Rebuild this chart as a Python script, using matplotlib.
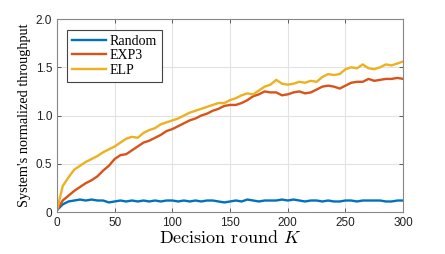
import numpy as np
import matplotlib
matplotlib.use("Agg")
import matplotlib.pyplot as plt

# decision rounds (every 5 rounds)
rounds = np.arange(0, 301, 5)

random_tp = [0.02, 0.08, 0.11, 0.12, 0.13, 0.12, 0.13, 0.12, 0.12, 0.10, 0.11,
             0.12, 0.11, 0.12, 0.11, 0.12, 0.11, 0.12, 0.11, 0.12, 0.12,
             0.11, 0.12, 0.11, 0.12, 0.11, 0.12, 0.12, 0.11, 0.10, 0.11,
             0.12, 0.11, 0.13, 0.12, 0.11, 0.12, 0.12, 0.12, 0.13, 0.12,
             0.13, 0.12, 0.11, 0.12, 0.12, 0.11, 0.12, 0.11, 0.11, 0.12,
             0.12, 0.11, 0.12, 0.12, 0.12, 0.12, 0.11, 0.11, 0.12, 0.12]

exp3_tp = [0.02, 0.12, 0.17, 0.22, 0.26, 0.30, 0.33, 0.37, 0.43, 0.48, 0.55,
           0.59, 0.60, 0.64, 0.68, 0.72, 0.74, 0.77, 0.80, 0.84, 0.86,
           0.89, 0.92, 0.95, 0.97, 1.00, 1.02, 1.05, 1.07, 1.10, 1.11,
           1.11, 1.13, 1.16, 1.20, 1.22, 1.25, 1.24, 1.24, 1.21, 1.22,
           1.24, 1.25, 1.23, 1.24, 1.27, 1.30, 1.31, 1.30, 1.28, 1.31,
           1.34, 1.35, 1.35, 1.38, 1.36, 1.37, 1.38, 1.38, 1.39, 1.38]

elp_tp = [0.02, 0.27, 0.36, 0.44, 0.48, 0.52, 0.55, 0.58, 0.62, 0.65, 0.68,
          0.72, 0.76, 0.78, 0.77, 0.82, 0.85, 0.87, 0.91, 0.93, 0.95,
          0.97, 1.00, 1.03, 1.05, 1.07, 1.09, 1.11, 1.13, 1.13, 1.16,
          1.18, 1.21, 1.23, 1.22, 1.26, 1.30, 1.32, 1.37, 1.33, 1.32,
          1.33, 1.35, 1.34, 1.36, 1.35, 1.40, 1.43, 1.42, 1.43, 1.48,
          1.50, 1.49, 1.53, 1.49, 1.48, 1.50, 1.53, 1.52, 1.54, 1.56]

serif = ["Liberation Serif", "DejaVu Serif"]
sans = ["Liberation Sans", "DejaVu Sans"]
plt.rcParams["mathtext.fontset"] = "cm"

fig = plt.figure(figsize=(4.45, 2.54), dpi=100)
ax = fig.add_axes([0.128, 0.165, 0.778, 0.76])

ax.plot(rounds, random_tp, color="#0072BD", lw=1.7, label="Random")
ax.plot(rounds, exp3_tp, color="#D95319", lw=1.7, label="EXP3")
ax.plot(rounds, elp_tp, color="#EDB120", lw=1.7, label="ELP")

ax.set_xlim(0, 300)
ax.set_ylim(0, 2.0)
ax.set_xticks([0, 50, 100, 150, 200, 250, 300])
ax.set_yticks([0, 0.5, 1.0, 1.5, 2.0])
ax.set_yticklabels(["0", "0.5", "1.0", "1.5", "2.0"])
ax.grid(True, color="#e3e3e3", lw=0.8)
ax.set_axisbelow(True)
ax.tick_params(direction="in", length=3, width=0.6, colors="#444444",
               labelsize=8.5, top=True, right=True, labeltop=False, labelright=False)
for lab in ax.get_xticklabels() + ax.get_yticklabels():
    lab.set_family(sans)
    lab.set_color("#222222")
for s in ax.spines.values():
    s.set_color("#888888")
    s.set_linewidth(0.8)

ax.set_xlabel("Decision round $K$", family=["cmr10", "DejaVu Serif"], fontsize=13, labelpad=0)
ax.set_ylabel("System's normalized throughput", family=serif, fontsize=10.3, labelpad=3)

leg = ax.legend(loc="upper left", bbox_to_anchor=(0.03, 0.945), prop={"family": serif, "size": 10},
                fancybox=False, edgecolor="#444444", framealpha=1, handlelength=2.4,
                borderpad=0.35, labelspacing=0.12, handletextpad=0.32, borderaxespad=0)
leg.get_frame().set_linewidth(0.8)

fig.savefig("out.png", dpi=100)
